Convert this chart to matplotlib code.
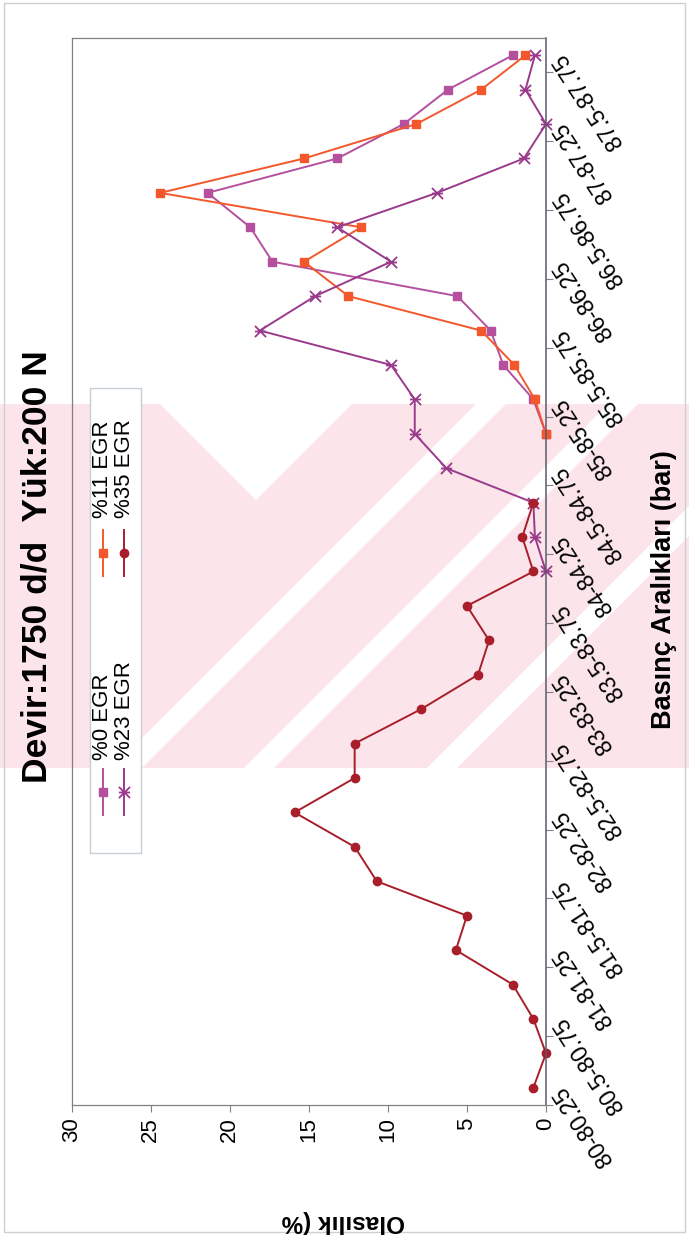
import numpy as np
import matplotlib
matplotlib.use("Agg")
import matplotlib.pyplot as plt
from matplotlib.path import Path
from matplotlib.patches import Polygon, Rectangle

plt.rcParams['font.family'] = ['Liberation Sans', 'DejaVu Sans']

# Pressure ranges (bar)
categories = [
    "80-80.25", "80.25-80.5", "80.5-80.75", "80.75-81", "81-81.25", "81.25-81.5",
    "81.5-81.75", "81.75-82", "82-82.25", "82.25-82.5", "82.5-82.75", "82.75-83",
    "83-83.25", "83.25-83.5", "83.5-83.75", "83.75-84", "84-84.25", "84.25-84.5",
    "84.5-84.75", "84.75-85", "85-85.25", "85.25-85.5", "85.5-85.75", "85.75-86",
    "86-86.25", "86.25-86.5", "86.5-86.75", "86.75-87", "87-87.25", "87.25-87.5",
    "87.5-87.75",
]
nan = np.nan
# Probability (%) per pressure range, one list per EGR ratio
egr0 = [nan] * 19 + [0, 0.8, 2.7, 3.5, 5.6, 17.3, 18.7, 21.4, 13.2, 9.0, 6.2, 2.1]
egr11 = [nan] * 19 + [0, 0.7, 2.0, 4.1, 12.5, 15.3, 11.7, 24.4, 15.3, 8.2, 4.1, 1.3]
egr23 = [nan] * 15 + [0, 0.7, 0.8, 6.3, 8.3, 8.3, 9.8, 18.1, 14.6, 9.8, 13.2, 6.9,
                      1.4, 0, 1.3, 0.7]
egr35 = [0.8, 0, 0.8, 2.1, 5.7, 5.0, 10.7, 12.1, 15.9, 12.1, 12.1, 7.9, 4.3, 3.6,
         5.0, 0.8, 1.5, 0.8] + [nan] * 13
series_names = ["%0 EGR", "%11 EGR", "%23 EGR", "%35 EGR"]
value_ticks = [0, 5, 10, 15, 20, 25, 30]

W, H = 689, 1244
fig = plt.figure(figsize=(W / 100, H / 100), dpi=100)
fig.patch.set_facecolor("white")


def fx(x):
    return x / W


def fy(y):
    return 1 - y / H


# page-level layer in pixel coordinates (watermark, frame, legend)
bg = fig.add_axes([0, 0, 1, 1], zorder=0)
bg.set_xlim(0, W)
bg.set_ylim(H, 0)
bg.axis("off")

band_top, band_bot = 404, 768
pink = "#FBE4EA"
band = Rectangle((0, band_top), W, band_bot - band_top, facecolor=pink,
                 edgecolor="none", zorder=0)
bg.add_patch(band)


def slash_stripe(c, w):
    # stripe where c <= x + y <= c + w
    pts = [(c - band_top, band_top), (c + w - band_top, band_top),
           (c + w - band_bot, band_bot), (c - band_bot, band_bot)]
    p = Polygon(pts, closed=True, facecolor="white", edgecolor="none", zorder=0.5)
    bg.add_patch(p)
    p.set_clip_path(band)


for c in (880, 1012, 1195):
    slash_stripe(c, 30)
notch = Polygon([(160, band_top), (352, band_top), (256, 500)], closed=True,
                facecolor="white", edgecolor="none", zorder=0.5)
bg.add_patch(notch)

# outer chart frame
bg.add_patch(Rectangle((4, 3), 681, 1229, facecolor="none", edgecolor="#cfcfcf",
                       lw=1.0, zorder=1))

# plot area
L, R, T, B = 71.6, 546, 38, 1105
ax = fig.add_axes([fx(L), fy(B), fx(R) - fx(L), (B - T) / H], zorder=2)
ax.set_facecolor("none")

ypos = np.arange(len(categories))
star = Path([(-1, -1), (1, 1), (-1, 1), (1, -1), (-1, 0), (1, 0)],
            [Path.MOVETO, Path.LINETO] * 3)

styles = [
    dict(color="#B4509E", marker="s", ms=6.2, mec="#B4509E", mfc="#B4509E"),
    dict(color="#F2582C", marker="s", ms=5.4, mec="#F2582C", mfc="#F2582C"),
    dict(color="#9A3A8C", marker=star, ms=8, mec="#9A3A8C", mfc="none", mew=1.3),
    dict(color="#A81E2A", marker="o", ms=6, mec="#A81E2A", mfc="#A81E2A"),
]
for vals, st in zip([egr0, egr11, egr23, egr35], styles):
    ax.plot(vals, ypos, lw=1.4, clip_on=False, **st)

ax.set_xlim(30, 0)
ax.set_ylim(-0.5, len(categories) - 0.5)

for side in ("top", "left", "bottom"):
    ax.spines[side].set_color("#808080")
    ax.spines[side].set_linewidth(0.9)
ax.spines["right"].set_color("#5a5a6a")
ax.spines["right"].set_linewidth(1.1)

ax.set_xticks(value_ticks)
ax.set_xticklabels([str(v) for v in value_ticks], rotation=90, fontsize=16)
ax.tick_params(axis="x", direction="out", length=5, width=0.8, color="#808080",
               pad=4)

ax.yaxis.tick_right()
ax.set_yticks(np.arange(-0.5, len(categories) - 1, 2))
ax.set_yticklabels([])
ax.set_yticks(ypos[::2], minor=True)
ax.set_yticklabels(categories[::2], minor=True, fontsize=16.5)
ax.tick_params(axis="y", which="major", direction="out", length=5, width=0.8,
               color="#808080")
ax.tick_params(axis="y", which="minor", length=0, pad=9)
for lab in ax.get_yticklabels(minor=True):
    lab.set_rotation(123)
    lab.set_rotation_mode("anchor")
    lab.set_ha("right")
    lab.set_va("center")

# titles
fig.text(fx(37), fy(567), "Devir:1750 d/d  Yük:200 N", rotation=90,
         fontsize=25.5, fontweight="bold", ha="center", va="center")
fig.text(fx(664), fy(590), "Basınç Aralıkları (bar)", rotation=90,
         fontsize=19.5, fontweight="bold", ha="center", va="center")
fig.text(fx(343), fy(1222), "Olasılık (%", rotation=180,
         fontsize=17.5, fontweight="bold", ha="center", va="center")

# legend, laid out in two columns
bg.add_patch(Rectangle((90, 388), 51, 465, facecolor="white", edgecolor="#c8ced6",
                       lw=1.0, zorder=2))
leg_pos = [(103, 792, 760), (103, 553, 518), (124, 792, 760), (124, 553, 518)]
for name, st, (x, ym, ytxt) in zip(series_names, styles, leg_pos):
    bg.plot([x, x], [ym + 23, ym - 23], color=st["color"], lw=1.4, zorder=3)
    bg.plot([x], [ym], marker=st["marker"], ms=st["ms"], mec=st["mec"],
            mfc=st["mfc"], mew=st.get("mew", 1.0), zorder=4)
    bg.text(x, ytxt, name, rotation=90, fontsize=16, ha="center", va="bottom",
            zorder=4)

fig.savefig("out.png", dpi=100, facecolor="white")
